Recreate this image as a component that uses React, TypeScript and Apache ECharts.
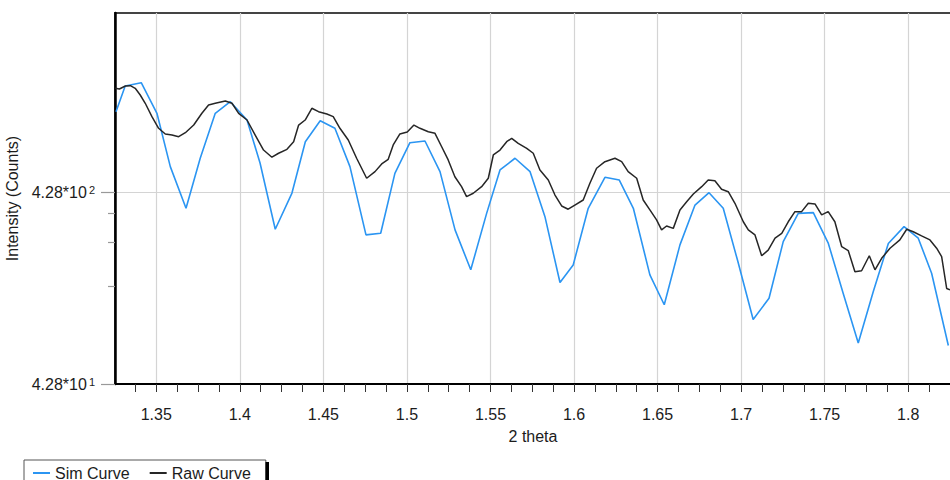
import React, { useEffect, useRef } from 'react';
import * as echarts from 'echarts';

// 2-theta positions and counts of the simulated curve
const simTheta = [1.3259, 1.3314, 1.3410, 1.3504, 1.3584, 1.3678, 1.3763, 1.3853, 1.3943, 1.4043, 1.4121, 1.4212, 1.4312, 1.4392, 1.4481, 1.4569, 1.4659, 1.4755, 1.4843, 1.4928, 1.5018, 1.5108, 1.5198, 1.5288, 1.5382, 1.5477, 1.5557, 1.5647, 1.5737, 1.5826, 1.5916, 1.5995, 1.6085, 1.6185, 1.6271, 1.6355, 1.6454, 1.6540, 1.6634, 1.6724, 1.6808, 1.6893, 1.6981, 1.7072, 1.7167, 1.7252, 1.7342, 1.7432, 1.7522, 1.7611, 1.7701, 1.7791, 1.7881, 1.7975, 1.8060, 1.8140, 1.8240];
const simCounts = [1131, 1540, 1603, 1109, 584, 354, 646, 1109, 1275, 1023, 610, 275, 425, 788, 1015, 926, 584, 257, 262, 539, 779, 795, 550, 273, 169, 333, 561, 646, 550, 320, 145, 179, 354, 514, 497, 354, 159, 111, 228, 368, 427, 354, 186, 93, 120, 237, 333, 336, 232, 127, 70, 130, 232, 284, 247, 162, 68];

// 2-theta positions and counts of the measured (raw) curve
const rawTheta = [1.3255, 1.3279, 1.3315, 1.3345, 1.3374, 1.3404, 1.3434, 1.3474, 1.3514, 1.3554, 1.3594, 1.3634, 1.3674, 1.3724, 1.3773, 1.3813, 1.3853, 1.3913, 1.3953, 1.3993, 1.4043, 1.4092, 1.4142, 1.4192, 1.4232, 1.4282, 1.4322, 1.4352, 1.4391, 1.4431, 1.4471, 1.4521, 1.4559, 1.4599, 1.4649, 1.4699, 1.4759, 1.4809, 1.4849, 1.4888, 1.4918, 1.4958, 1.5002, 1.5042, 1.5078, 1.5128, 1.5168, 1.5208, 1.5247, 1.5287, 1.5327, 1.5357, 1.5397, 1.5447, 1.5487, 1.5517, 1.5557, 1.5597, 1.5627, 1.5666, 1.5717, 1.5756, 1.5796, 1.5846, 1.5886, 1.5926, 1.5965, 1.6005, 1.6055, 1.6095, 1.6135, 1.6185, 1.6245, 1.6285, 1.6324, 1.6375, 1.6414, 1.6454, 1.6494, 1.6524, 1.6554, 1.6594, 1.6634, 1.6674, 1.6714, 1.6764, 1.6803, 1.6843, 1.6883, 1.6923, 1.6963, 1.7013, 1.7043, 1.7083, 1.7123, 1.7162, 1.7203, 1.7243, 1.7282, 1.7322, 1.7362, 1.7402, 1.7442, 1.7482, 1.7521, 1.7561, 1.7602, 1.7641, 1.7681, 1.7721, 1.7767, 1.7801, 1.7841, 1.7891, 1.7950, 1.7991, 1.8030, 1.8080, 1.8130, 1.8170, 1.8200, 1.8230, 1.8250];
const rawCounts = [1498, 1486, 1540, 1546, 1498, 1382, 1251, 1065, 926, 865, 854, 837, 878, 963, 1109, 1226, 1251, 1286, 1251, 1109, 1023, 854, 713, 654, 686, 719, 788, 963, 1023, 1178, 1131, 1100, 1065, 926, 805, 646, 508, 550, 603, 638, 758, 865, 886, 963, 926, 889, 872, 742, 633, 517, 459, 407, 424, 459, 508, 672, 713, 788, 821, 773, 728, 686, 561, 497, 415, 364, 350, 368, 391, 478, 573, 620, 646, 620, 550, 508, 391, 347, 308, 273, 286, 278, 347, 383, 420, 459, 497, 493, 445, 432, 376, 301, 273, 257, 200, 214, 247, 262, 301, 340, 340, 376, 373, 327, 340, 301, 223, 213, 165, 167, 200, 169, 194, 219, 242, 275, 267, 254, 242, 219, 198, 135, 133];

// Axis ticks
const xMajorTicks = [1.35, 1.4, 1.45, 1.5, 1.55, 1.6, 1.65, 1.7, 1.75, 1.8];
const xMinorTicks = [1.3375, 1.3625, 1.375, 1.3875, 1.4125, 1.425, 1.4375, 1.4625, 1.475, 1.4875, 1.5125, 1.525, 1.5375, 1.5625, 1.575, 1.5875, 1.6125, 1.625, 1.6375, 1.6625, 1.675, 1.6875, 1.7125, 1.725, 1.7375, 1.7625, 1.775, 1.7875, 1.8125, 1.825];
const yMajorTicks = [42.8, 428];
const yMinorTicks = [139.1, 235.4, 331.7];
const seriesNames = ['Sim Curve', 'Raw Curve'];

const X_MIN = 1.3253;
const X_MAX = 1.8256;
const Y_MIN = 42.8;
const Y_MAX = 3704;

const FONT = '"Liberation Sans", Arial, sans-serif';
const TEXT = '#1c1c1c';

export default function App() {
  const ref = useRef<HTMLDivElement>(null);
  useEffect(() => {
    if (!ref.current) return;
    const chart = echarts.init(ref.current, undefined, { renderer: 'svg' });
    const lg = (v: number) => Math.log10(v);
    const yLogMin = lg(Y_MIN);
    const yLogMax = lg(Y_MAX);
    const option: any = {
      animation: false,
      backgroundColor: '#fff',
      textStyle: { fontFamily: FONT },
      grid: {
        left: 115, top: 13, right: -1, bottom: 96,
        show: true, borderColor: '#444', borderWidth: 2,
        containLabel: false, outerBoundsMode: 'none',
      },
      legend: {
        left: 24, top: 460,
        data: seriesNames,
        icon: 'rect', itemWidth: 17, itemHeight: 2, itemGap: 20,
        padding: [5, 15, 6, 9],
        borderColor: '#555', borderWidth: 1, backgroundColor: '#fff',
        textStyle: { fontSize: 16, color: TEXT, fontFamily: FONT },
      },
      xAxis: [
        {
          type: 'value', min: X_MIN, max: X_MAX, position: 'bottom',
          name: '2 theta', nameLocation: 'middle', nameGap: 44,
          nameTextStyle: { fontSize: 16, color: TEXT, fontFamily: FONT },
          axisLine: { show: true, onZero: false, lineStyle: { color: '#000', width: 2 } },
          axisTick: { show: true, customValues: xMajorTicks, length: 8, lineStyle: { color: '#333', width: 1 } },
          axisLabel: {
            customValues: xMajorTicks, margin: 22, fontSize: 16, color: TEXT, fontFamily: FONT,
            formatter: (v: number) => String(+(+v).toFixed(4)),
          },
          splitLine: { show: true, lineStyle: { color: '#d4d4d4', width: 1.2 } },
        },
        {
          type: 'value', min: X_MIN, max: X_MAX, position: 'bottom', offset: 0,
          axisLine: { show: false },
          axisTick: { show: true, customValues: xMinorTicks, length: 8, lineStyle: { color: '#333', width: 1 } },
          axisLabel: { show: false },
          splitLine: { show: false },
        },
      ],
      yAxis: [
        {
          type: 'log', logBase: 10, min: Y_MIN, max: Y_MAX, position: 'left', offset: 0,
          axisLine: { show: false }, axisTick: { show: false }, axisLabel: { show: false },
          splitLine: { show: false },
        },
        {
          type: 'value', min: yLogMin, max: yLogMax, position: 'left', offset: 0,
          name: 'Intensity (Counts)', nameLocation: 'middle', nameGap: 88,
          nameTextStyle: { fontSize: 16, color: TEXT, fontFamily: FONT },
          axisLine: { show: true, onZero: false, lineStyle: { color: '#000', width: 2.5 } },
          axisTick: { show: true, customValues: yMajorTicks.map(lg), length: 14, lineStyle: { color: '#999', width: 1.2 } },
          axisLabel: {
            customValues: yMajorTicks.map(lg), margin: 20,
            formatter: (v: number) => {
              const n = Math.round(v - Math.log10(4.28));
              return `{m|4.28*10}{s|${n}}`;
            },
            rich: {
              m: { fontSize: 16, color: TEXT, fontFamily: FONT },
              s: { fontSize: 11, color: TEXT, fontFamily: FONT, verticalAlign: 'top', padding: [0, 0, 0, 2] },
            },
          },
          splitLine: { show: true, lineStyle: { color: '#d4d4d4', width: 1.2 } },
        },
        {
          type: 'value', min: yLogMin, max: yLogMax, position: 'left', offset: 0,
          axisLine: { show: false },
          axisTick: { show: true, customValues: yMinorTicks.map(lg), length: 7, lineStyle: { color: '#999', width: 1.2 } },
          axisLabel: { show: false },
          splitLine: { show: false },
        },
      ],
      graphic: [
        { type: 'rect', shape: { x: 265.5, y: 462, width: 3.5, height: 22 }, style: { fill: '#000' }, z: 100 },
      ],
      series: [
        {
          name: seriesNames[0], type: 'line', xAxisIndex: 0, yAxisIndex: 0,
          data: simTheta.map((t, i) => [t, simCounts[i]]),
          showSymbol: false, symbol: 'none', clip: true,
          lineStyle: { color: '#2b95f2', width: 1.6 }, itemStyle: { color: '#2b95f2' },
          z: 3,
        },
        {
          name: seriesNames[1], type: 'line', xAxisIndex: 0, yAxisIndex: 0,
          data: rawTheta.map((t, i) => [t, rawCounts[i]]),
          showSymbol: false, symbol: 'none', clip: true,
          lineStyle: { color: '#262626', width: 1.5 }, itemStyle: { color: '#262626' },
          z: 4,
        },
      ],
    };
    chart.setOption(option);
    return () => chart.dispose();
  }, []);
  return <div ref={ref} style={{ position: 'absolute', left: 0, top: 0, width: 950, height: 480 }} />;
}
